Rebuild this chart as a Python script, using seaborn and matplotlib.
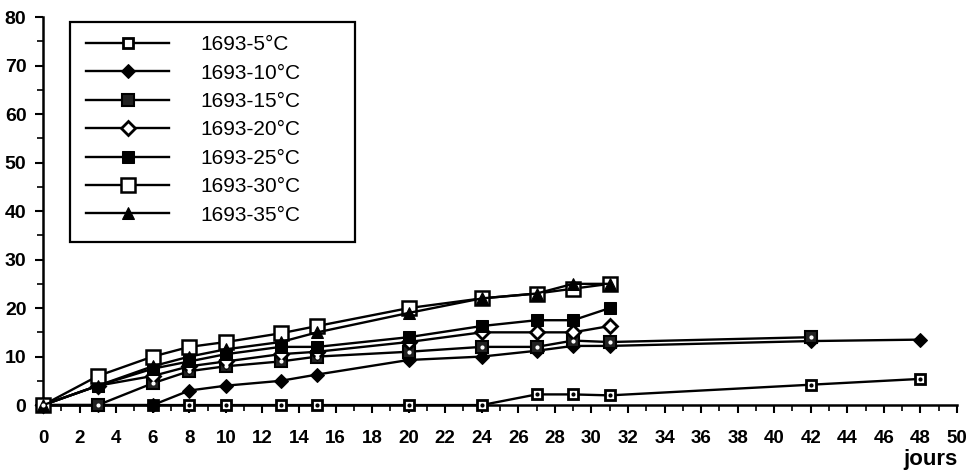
import numpy as np
import pandas as pd
import matplotlib.pyplot as plt
import seaborn as sns
from matplotlib.patches import Rectangle

jours = [0, 3, 6, 8, 10, 13, 15, 20, 24, 27, 29, 31]

s5 = [0, 0, 0, 0, 0, 0, 0, 0, 0, 2.2, 2.2, 2.0, 4.2, 5.4]
s10 = [0, 0, 0, 3, 4, 5, 6.3, 9.3, 10, 11.2, 12.2, 12.2, 13.2, 13.5]
s15 = [0, 0, 4.5, 7, 8, 9, 10, 11, 12, 12, 13.3, 13, 14]
s20 = [0, 4, 6, 8, 9, 10.5, 11, 13, 15, 15, 15, 16.3]
s25 = [0, 4, 7.5, 9, 10.5, 12, 12, 14, 16.3, 17.5, 17.5, 20]
s30 = [0, 6, 10, 12, 13, 14.8, 16.3, 20, 22, 23, 24, 25]
s35 = [0, 4, 8, 10, 11.5, 13, 15, 19, 22, 23, 25, 25]

labels = ["1693-5°C", "1693-10°C", "1693-15°C", "1693-20°C",
          "1693-25°C", "1693-30°C", "1693-35°C"]

x_long = jours + [42, 48]
x_mid = jours + [42]

series = [
    (x_long, s5, dict(marker="s", mfc="white", ms=7.5, mew=2)),
    (x_long, s10, dict(marker="D", mfc="black", ms=7.5)),
    (x_mid, s15, dict(marker="s", mfc="#222222", ms=8, mew=1.5)),
    (jours, s20, dict(marker="D", mfc="white", ms=7.5, mew=2)),
    (jours, s25, dict(marker="s", mfc="black", ms=8.5)),
    (jours, s30, dict(marker="s", mfc="white", ms=9.5, mew=1.8)),
    (jours, s35, dict(marker="^", mfc="black", ms=9)),
]

plt.rcParams["font.family"] = ["Liberation Sans", "DejaVu Sans"]

fig = plt.figure(figsize=(9.79, 4.76), dpi=100)
ax = fig.add_axes([0.044, 0.149, 0.9335, 0.815])

for (xs, ys, kw), lab in zip(series, labels):
    sns.lineplot(x=xs, y=ys, ax=ax, color="black", lw=1.7, mec="black",
                 label=lab, clip_on=False, zorder=3, **kw)

# small dots in the centre of the dotted squares
ax.scatter(x_long, s5, s=4, color="black", zorder=5, clip_on=False)
ax.scatter(x_mid, s15, s=4, color="white", zorder=5, clip_on=False)

ax.set_xlim(0, 50)
ax.set_ylim(0, 80)
ax.set_xticks(range(0, 51, 2))
ax.set_xticks(range(0, 51, 1), minor=True)
ax.set_yticks(range(0, 81, 10))
ax.set_yticks(range(0, 81, 5), minor=True)
ax.tick_params(axis="both", which="major", length=6, width=1.5)
ax.tick_params(axis="both", which="minor", length=4, width=1.2)
ax.tick_params(axis="x", pad=12, labelsize=13.5)
ax.tick_params(axis="y", pad=6, labelsize=14)
for t in ax.get_xticklabels() + ax.get_yticklabels():
    t.set_fontweight("bold")
for side in ["top", "right"]:
    ax.spines[side].set_visible(False)
for side in ["left", "bottom"]:
    ax.spines[side].set_linewidth(1.8)
ax.set_xlabel("")
ax.set_ylabel("")
fig.text(0.978, 0.012, "jours", ha="right", va="bottom",
         fontsize=16, fontweight="bold")

ax.add_patch(Rectangle((0.0295, 0.42), 0.312, 0.567, transform=ax.transAxes,
                       fill=False, edgecolor="black", lw=1.6, zorder=6,
                       clip_on=False))
leg = ax.legend(loc="upper left", bbox_to_anchor=(0.047, 0.953),
                frameon=False, fontsize=15, handlelength=4.0,
                handletextpad=1.5, labelspacing=0.45, borderpad=0,
                borderaxespad=0)

fig.savefig("out.png", dpi=100)
